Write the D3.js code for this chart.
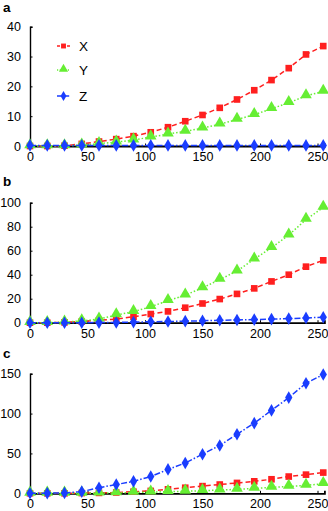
<!DOCTYPE html>
<html><head><meta charset="utf-8">
<script src="https://cdn.jsdelivr.net/npm/d3@7"></script>
<style>body{margin:0;background:#fff}svg{display:block}</style>
</head><body>
<script>
const xs = [0,15,30,45,60,75,90,105,120,135,150,165,180,195,210,225,240,255];
const seriesNames = ["X","Y","Z"];
const xTicks = [0,50,100,150,200,250];

const aX = [0,0,0.1,0.7,1.5,2.3,3.3,4.6,6.3,8.3,10.4,12.8,15.6,18.7,22.1,26.1,30.7,33.5];
const aY = [0,0,0,0.3,0.8,1.3,2.0,3.0,4.0,4.9,6.0,7.3,8.9,10.5,12.5,14.5,16.8,18.3];
const aZ = [0.2,0.2,0.2,0.2,0.2,0.2,0.2,0.2,0.2,0.2,0.2,0.2,0.2,0.2,0.2,0.2,0.2,0.2];
const aTicks = [0,10,20,30,40];

const bX = [0,0,0.3,1,2,3,5,7.2,9.4,12.5,16,19.7,24,28.6,34.4,40,46.7,52];
const bY = [0,0,0.5,1.5,3,6.4,9.2,13.3,18.3,23,29,36,43,53,62.5,73,86,96];
const bZ = [0,0,0,0,0.1,0.2,0.5,0.8,1,1.3,1.6,2,2.3,2.6,3,3.4,4,4.5];
const bTicks = [0,20,40,60,80,100];

const cX = [0,0,0,0.3,0.5,1,2,3,5,7,9,11,13,15,17.6,21,23.4,26];
const cY = [0,0,0,0,0.2,0.5,1,1.5,2,2.5,3.3,4,5,6,7.5,8.5,10,12];
const cZ = [0,0.2,0.5,2.1,7,11,15,21,30,38,49,60,74,88,104,120,138,149];
const cTicks = [0,50,100,150];

const panels = [
  {label:"a", series:[aX,aY,aZ], ticks:aTicks, top:26.7, bottom:146, labelY:12, legend:true},
  {label:"b", series:[bX,bY,bZ], ticks:bTicks, top:202.7, bottom:322.7, labelY:186, legend:false},
  {label:"c", series:[cX,cY,cZ], ticks:cTicks, top:373.7, bottom:493.3, labelY:358, legend:false}
];

const colors = ["#ff1f1f","#66ee33","#1a3dff"];
const dashes = ["5,3","1.5,2","6,2,1.5,2"];
const symbols = [
  d3.symbol().type(d3.symbolSquare).size(44),
  d3.symbol().type(d3.symbolTriangle).size(58),
  d3.symbol().type(d3.symbolDiamond).size(46)
];
const legendSymbols = [
  d3.symbol().type(d3.symbolSquare).size(24),
  d3.symbol().type(d3.symbolTriangle).size(36),
  d3.symbol().type(d3.symbolDiamond).size(30)
];

const svg = d3.select("body").append("svg").attr("width",328).attr("height",511)
  .style("font-family","'Liberation Sans', Arial, Helvetica, sans-serif");

const x = d3.scaleLinear().domain([0,256]).range([30,324.4]);

panels.forEach(p => {
  const maxT = p.ticks[p.ticks.length-1];
  const y = d3.scaleLinear().domain([0,maxT]).range([p.bottom,p.top]);
  const g = svg.append("g");

  g.append("text").attr("x",3).attr("y",p.labelY).attr("font-weight","bold")
    .attr("font-size",13.5).text(p.label);

  // y axis
  const ya = d3.axisLeft(y).tickValues(p.ticks).tickSize(-2.5).tickPadding(9);
  const yg = g.append("g").attr("transform","translate(30,0)").call(ya);
  yg.select(".domain").attr("stroke","#000").attr("stroke-width",1.4);
  yg.selectAll(".tick line").attr("stroke","#000").attr("stroke-width",1);
  yg.selectAll(".tick text").attr("font-size",12.5).attr("fill","#000").attr("font-family","inherit");

  // x axis
  const xa = d3.axisBottom(x).tickValues(xTicks).tickSize(-2.5).tickPadding(6);
  const xg = g.append("g").attr("transform",`translate(0,${p.bottom})`).call(xa);
  xg.select(".domain").attr("stroke","#000").attr("stroke-width",1.8);
  xg.selectAll(".tick line").attr("stroke","#000").attr("stroke-width",1);
  xg.selectAll(".tick text").attr("font-size",12.5).attr("fill","#000").attr("font-family","inherit");

  p.series.forEach((vals,i) => {
    const line = d3.line().x((d,k)=>x(xs[k])).y(d=>y(d));
    g.append("path").datum(vals).attr("d",line).attr("fill","none")
      .attr("stroke",colors[i]).attr("stroke-width",1.5).attr("stroke-dasharray",dashes[i]);
    g.selectAll(null).data(vals).enter().append("path")
      .attr("d",symbols[i])
      .attr("transform",(d,k)=>`translate(${x(xs[k])},${y(d) + (i===1?-1:0)})`)
      .attr("fill",colors[i]);
  });

  if (p.legend) {
    const rows = [46,70,96];
    seriesNames.forEach((n,i) => {
      const lg = g.append("g").attr("transform",`translate(0,${rows[i]})`);
      lg.append("line").attr("x1",57).attr("x2",70).attr("y1",0).attr("y2",0)
        .attr("stroke",colors[i]).attr("stroke-width",1.5)
        .attr("stroke-dasharray", i===0?"3,2":(i===1?"1.2,1.5":"4,1.5,1.2,1.5"));
      lg.append("path").attr("d",legendSymbols[i]).attr("transform",`translate(63.5,${i===1?-1:0})`)
        .attr("fill",colors[i]);
      lg.append("text").attr("x",79).attr("y",5).attr("font-size",13.5).text(n);
    });
  }
});
</script>
</body></html>
